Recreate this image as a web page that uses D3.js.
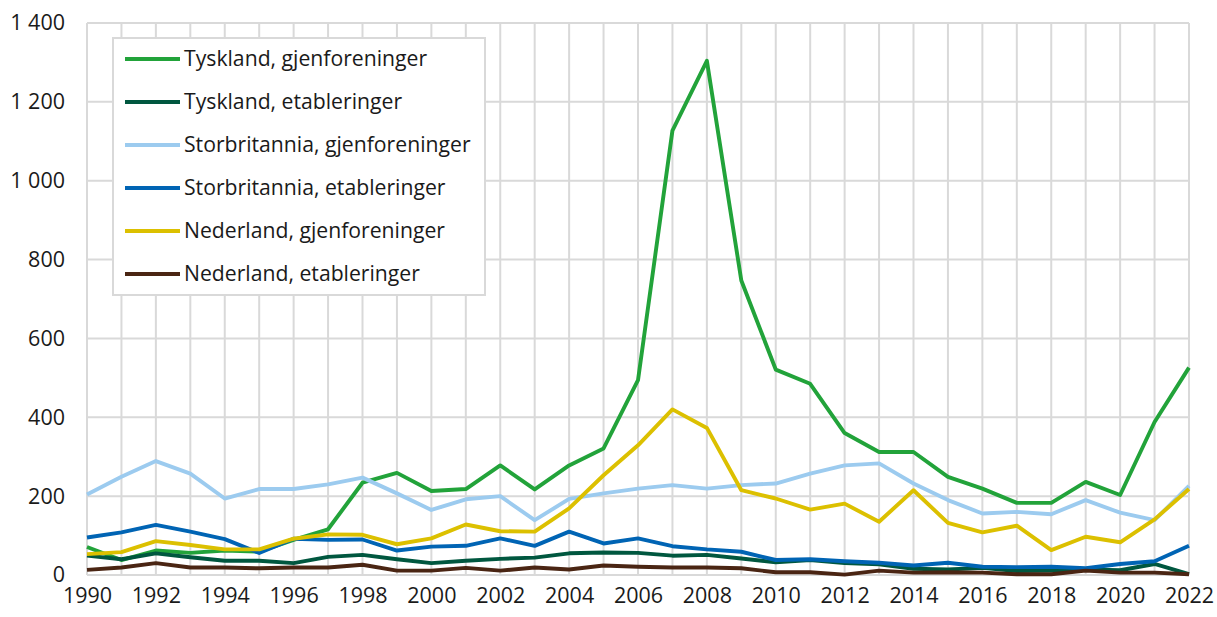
<!DOCTYPE html>
<html><head><meta charset="utf-8">
<script src="https://cdn.jsdelivr.net/npm/d3@7"></script>
<style>body{margin:0;background:#fff;} text{font-family:"Open Sans","Noto Sans",sans-serif;fill:#1a1a1a;}</style>
</head><body>
<svg id="c" width="1217" height="617"></svg>
<script>
const years = d3.range(1990, 2023);
const tysklandGjen = [71,38,62,56,62,59,89,116,234,259,213,218,278,217,278,321,494,1127,1304,747,521,485,360,312,312,249,219,183,183,236,203,388,526];
const tysklandEtab = [49,40,55,45,36,36,30,46,51,40,30,36,41,44,55,57,56,49,51,42,32,38,30,27,16,14,18,10,11,14,12,28,2];
const storbritGjen = [204,249,289,257,194,218,218,230,247,207,165,192,200,139,193,207,219,228,219,228,232,257,278,283,232,190,156,160,154,190,158,139,226];
const storbritEtab = [95,108,127,110,91,56,92,89,90,62,72,74,93,74,110,80,93,73,65,59,38,40,35,31,24,31,21,20,21,17,28,35,74];
const nederGjen = [53,58,86,76,65,65,92,103,102,78,93,128,111,110,169,253,329,420,373,215,194,166,181,135,215,132,108,125,63,97,83,141,218];
const nederEtab = [13,19,30,19,19,17,19,19,26,11,11,18,11,19,14,24,21,19,19,17,7,7,1,11,6,7,6,2,2,11,6,6,2];
const seriesNames = ["Tyskland, gjenforeninger","Tyskland, etableringer","Storbritannia, gjenforeninger","Storbritannia, etableringer","Nederland, gjenforeninger","Nederland, etableringer"];
const seriesColors = ["#22a33a","#00573f","#9ccbef","#0064b4","#dcc000","#4a2513"];
const yTicks = [0,200,400,600,800,1000,1200,1400];
const xTicks = d3.range(1990, 2023, 2);

const series = [tysklandGjen,tysklandEtab,storbritGjen,storbritEtab,nederGjen,nederEtab];
const svg = d3.select("#c");
const x = d3.scaleLinear().domain([1990,2022]).range([87,1189]);
const y = d3.scaleLinear().domain([0,1400]).range([575,23]);
const fmt = v => d3.format(",")(v).replace(/,/g," ");

const g = svg.append("g");
g.selectAll(".vg").data(years).join("line")
  .attr("x1",d=>x(d)).attr("x2",d=>x(d)).attr("y1",y(1400)).attr("y2",y(0))
  .attr("stroke","#d9d9d9").attr("stroke-width",2);
g.selectAll(".hg").data(yTicks).join("line")
  .attr("x1",x(1990)).attr("x2",x(2022)).attr("y1",d=>y(d)).attr("y2",d=>y(d))
  .attr("stroke","#d9d9d9").attr("stroke-width",2);

const ya = svg.append("g").attr("transform",`translate(${x(1990)},0)`)
  .call(d3.axisLeft(y).tickValues(yTicks).tickFormat(fmt).tickSize(0).tickPadding(22));
ya.select(".domain").remove();
ya.selectAll("text").attr("font-size",21.5).attr("font-family","Open Sans").attr("fill","#1a1a1a");

const xa = svg.append("g").attr("transform",`translate(0,${y(0)})`)
  .call(d3.axisBottom(x).tickValues(xTicks).tickFormat(d3.format("d")).tickSize(0).tickPadding(13));
xa.select(".domain").remove();
xa.selectAll("text").attr("font-size",21.5).attr("font-family","Open Sans").attr("fill","#1a1a1a");

const line = d3.line().x((d,i)=>x(years[i])).y(d=>y(d));
svg.append("g").selectAll("path").data(series.map((s,i)=>({s,i}))).join("path")
  .attr("d",d=>line(d.s)).attr("fill","none").attr("stroke",d=>seriesColors[d.i])
  .attr("stroke-width",3.9).attr("stroke-linejoin","round");

const lg = svg.append("g");
lg.append("rect").attr("x",113).attr("y",38).attr("width",372).attr("height",257)
  .attr("fill","#fff").attr("stroke","#d9d9d9").attr("stroke-width",2);
seriesNames.forEach((n,i)=>{
  const cy = 59 + i*43;
  lg.append("line").attr("x1",125).attr("x2",180).attr("y1",cy).attr("y2",cy)
    .attr("stroke",seriesColors[i]).attr("stroke-width",3.9);
  lg.append("text").attr("x",184).attr("y",cy).attr("dy","0.35em")
    .attr("font-size",21.2).text(n);
});
</script>
</body></html>
